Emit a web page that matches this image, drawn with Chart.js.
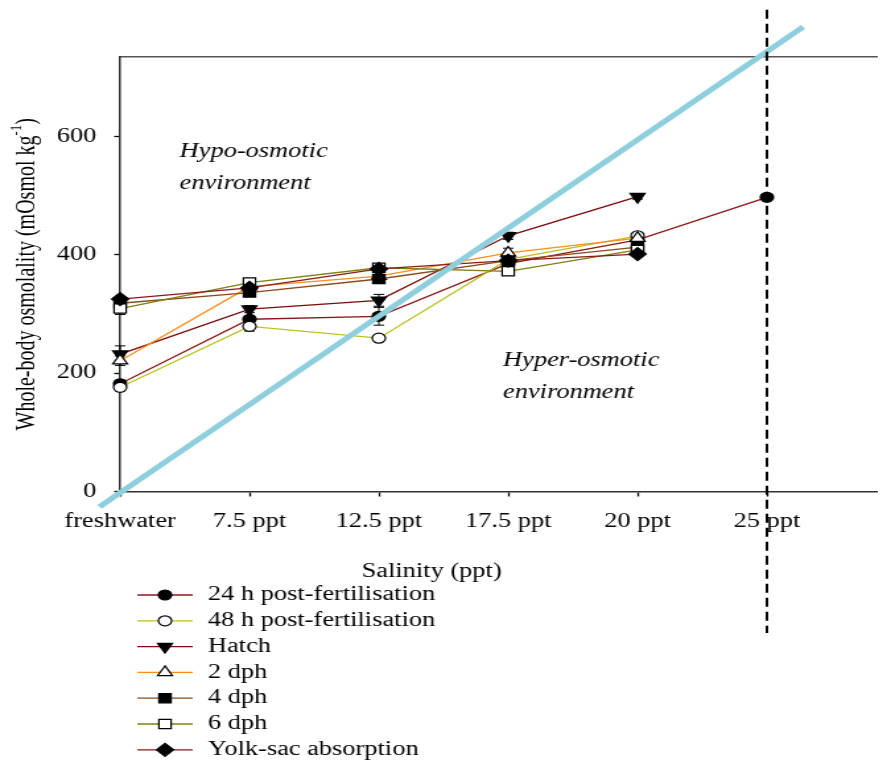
<!DOCTYPE html>
<html>
<head>
<meta charset="utf-8">
<script src="https://cdn.jsdelivr.net/npm/chart.js@4.4.1/dist/chart.umd.min.js"></script>
<style>
  html, body { margin: 0; padding: 0; background: #fff; overflow: hidden; }
  /* the figure is drawn narrow and widened, which gives the broad serif lettering */
  #osmo { display: block; transform: scaleX(1.32); transform-origin: 0 0; }
</style>
</head>
<body>
<canvas id="osmo" width="672" height="763"></canvas>
<script>
// salinity treatments along the x axis (index = position)
const salinities = ['freshwater', '7.5 ppt', '12.5 ppt', '17.5 ppt', '20 ppt', '25 ppt'];
const yTickValues = [0, 200, 400, 600];

// whole-body osmolality, mOsmol kg-1 (null = not sampled)
const post24h   = [182, 291, 296, 385, 425, 497];
const post48h   = [176, 279, 259, 392, 432, null];
const hatch     = [232, 308, 323, 432, 498, null];
const dph2      = [221, 346, 364, 403, 428, null];
const dph4      = [318, 336, 359, 390, 413, null];
const dph6      = [309, 353, 378, 372, 408, null];
const yolkSac   = [325, 344, 376, 390, 401, null];

// standard errors
const post24hErr = [6, 5, 15, 6, 6, 4];
const post48hErr = [6, 8, 4, 6, 5, 0];
const hatchErr   = [14, 6, 10, 6, 4, 0];
const dph2Err    = [8, 6, 6, 8, 5, 0];
const dph4Err    = [5, 5, 5, 6, 5, 0];
const dph6Err    = [10, 5, 5, 6, 5, 0];
const yolkSacErr = [5, 5, 5, 5, 4, 0];

// isosmotic line (medium osmolality) and the 25 ppt marker line
const isoX = [-0.16, 5.28];
const isoY = [-26, 785];
const dashX = [5, 5];
const dashY = [814, -239];

const serif = "'Liberation Serif', 'Times New Roman', serif";

function toPoints(vals) {
  return vals.map((v, i) => ({ x: i, y: v })).filter(p => p.y != null);
}

function series(label, vals, err, color, style, filled, radius, rotation) {
  return {
    label: label,
    data: toPoints(vals),
    err: err,
    borderColor: color,
    borderWidth: 1.3,
    pointStyle: style,
    pointRadius: radius,
    pointRotation: rotation || 0,
    pointBackgroundColor: filled ? '#000' : '#fff',
    pointBorderColor: '#000',
    pointBorderWidth: 1.2,
    fill: false,
    tension: 0,
    clip: false
  };
}

const lineSeries = [
  series('24 h post-fertilisation', post24h, post24hErr, '#8b1a1a', 'circle', true, 5),
  series('48 h post-fertilisation', post48h, post48hErr, '#b9c21f', 'circle', false, 5),
  series('Hatch', hatch, hatchErr, '#7a0c0c', 'triangle', true, 6.5, 180),
  series('2 dph', dph2, dph2Err, '#ff8c1a', 'triangle', false, 6.5),
  series('4 dph', dph4, dph4Err, '#8b4a1a', 'rect', true, 6.5),
  series('6 dph', dph6, dph6Err, '#7f7f10', 'rect', false, 6.5),
  series('Yolk-sac absorption', yolkSac, yolkSacErr, '#8b1a1a', 'rectRot', true, 6.5)
];
// later stages are painted over earlier ones
lineSeries.forEach((ds, i) => { ds.order = 20 - i; });

const isoLine = {
  label: 'isosmotic',
  data: isoX.map((x, i) => ({ x: x, y: isoY[i] })),
  borderColor: '#8fcfdd',
  borderWidth: 5,
  pointRadius: 0,
  order: -1,
  clip: false
};

const dashLine = {
  label: '25 ppt',
  data: dashX.map((x, i) => ({ x: x, y: dashY[i] })),
  borderColor: '#000',
  borderWidth: 2,
  borderDash: [9, 5],
  pointRadius: 0,
  order: -2,
  clip: false
};

// labels inside the plot, positioned in data units
const notes = [
  { x: 0.46, y: 565, lines: ['Hypo-osmotic', 'environment'] },
  { x: 2.96, y: 212, lines: ['Hyper-osmotic', 'environment'] }
];

// error bars under the markers
const errorBars = {
  id: 'errorBars',
  beforeDatasetsDraw(chart) {
    const { ctx, scales: { x, y } } = chart;
    ctx.save();
    ctx.strokeStyle = '#000';
    ctx.lineWidth = 1;
    chart.data.datasets.forEach(ds => {
      if (!ds.err) return;
      ds.data.forEach(p => {
        const e = ds.err[p.x];
        if (!e) return;
        const px = x.getPixelForValue(p.x);
        const top = y.getPixelForValue(p.y + e);
        const bot = y.getPixelForValue(p.y - e);
        ctx.beginPath();
        ctx.moveTo(px, top); ctx.lineTo(px, bot);
        ctx.moveTo(px - 4, top); ctx.lineTo(px + 4, top);
        ctx.moveTo(px - 4, bot); ctx.lineTo(px + 4, bot);
        ctx.stroke();
      });
    });
    ctx.restore();
  }
};

function marker(ctx, ds, cx, cy) {
  const opts = {
    pointStyle: ds.pointStyle,
    radius: ds.pointRadius,
    rotation: ds.pointRotation,
    borderWidth: ds.pointBorderWidth
  };
  ctx.fillStyle = ds.pointBackgroundColor;
  ctx.strokeStyle = ds.pointBorderColor;
  ctx.lineWidth = ds.pointBorderWidth;
  Chart.helpers.drawPoint(ctx, opts, cx, cy);
}

// axis titles, in-plot notes and the legend block
const annotations = {
  id: 'annotations',
  afterDraw(chart) {
    const { ctx, chartArea, scales: { x, y } } = chart;
    ctx.save();
    ctx.fillStyle = '#000';

    ctx.font = 'italic 20px ' + serif;
    ctx.textAlign = 'left';
    ctx.textBaseline = 'alphabetic';
    notes.forEach(n => {
      n.lines.forEach((t, i) => {
        ctx.fillText(t, x.getPixelForValue(n.x), y.getPixelForValue(n.y) + i * 32);
      });
    });

    // x title
    ctx.font = '20px ' + serif;
    ctx.textAlign = 'center';
    ctx.fillText('Salinity (ppt)', 327, 577);

    // y title with superscript
    const main = 'Whole-body osmolality (mOsmol kg';
    const sup = '-1';
    const tail = ')';
    ctx.font = '20px ' + serif;
    const wMain = ctx.measureText(main).width;
    const wTail = ctx.measureText(tail).width;
    ctx.font = '13px ' + serif;
    const wSup = ctx.measureText(sup).width;
    const total = wMain + wSup + wTail;
    ctx.translate(21, (chartArea.top + chartArea.bottom) / 2);
    ctx.rotate(-Math.PI / 2);
    ctx.textAlign = 'left';
    ctx.textBaseline = 'middle';
    let tx = -total / 2;
    ctx.font = '20px ' + serif;
    ctx.fillText(main, tx, 0);
    tx += wMain;
    ctx.font = '13px ' + serif;
    ctx.fillText(sup, tx, -8);
    tx += wSup;
    ctx.font = '20px ' + serif;
    ctx.fillText(tail, tx, 0);
    ctx.setTransform(1, 0, 0, 1, 0, 0);

    // legend
    const rowY0 = 595, rowGap = 25.8;
    lineSeries.forEach((ds, i) => {
      const ly = rowY0 + i * rowGap;
      ctx.strokeStyle = ds.borderColor;
      ctx.lineWidth = 1.3;
      ctx.beginPath();
      ctx.moveTo(104, ly);
      ctx.lineTo(146, ly);
      ctx.stroke();
      marker(ctx, ds, 125, ly);
      ctx.fillStyle = '#000';
      ctx.font = '20px ' + serif;
      ctx.textAlign = 'left';
      ctx.textBaseline = 'middle';
      ctx.fillText(ds.label, 157.5, ly);
    });
    ctx.restore();
  }
};

const xMax = 5.85;

new Chart(document.getElementById('osmo'), {
  type: 'line',
  data: { datasets: lineSeries.concat([isoLine, dashLine]) },
  options: {
    responsive: false,
    animation: false,
    layout: { padding: { top: 57, right: 0, bottom: 211.5, left: 0 } },
    plugins: {
      legend: { display: false },
      tooltip: { enabled: false }
    },
    scales: {
      x: {
        type: 'linear',
        position: 'bottom',
        min: 0,
        max: xMax,
        clip: false,
        afterBuildTicks: s => { s.ticks = salinities.map((_, i) => ({ value: i })); },
        afterFit: s => { s.height = 60; },
        ticks: {
          color: '#000',
          font: { family: serif, size: 20 },
          padding: 13,
          maxRotation: 0,
          autoSkip: false,
          callback: v => salinities[v]
        },
        grid: { drawOnChartArea: false, drawTicks: true, tickLength: 5, color: '#000', tickWidth: 1.3 },
        border: { display: true, color: '#333', width: 1.5 }
      },
      xTop: {
        type: 'linear',
        position: 'top',
        min: 0,
        max: xMax,
        afterFit: s => { s.height = 0; },
        ticks: { display: false },
        grid: { display: false },
        border: { display: true, color: '#555', width: 1.5 }
      },
      y: {
        type: 'linear',
        min: 0,
        max: 734,
        afterBuildTicks: s => { s.ticks = yTickValues.map(v => ({ value: v })); },
        afterFit: s => { s.width = 91; },
        ticks: {
          color: '#000',
          font: { family: serif, size: 20 },
          padding: 13.5
        },
        grid: { drawOnChartArea: false, drawTicks: true, tickLength: 4.5, color: '#000', tickWidth: 1.3 },
        border: { display: true, color: '#333', width: 1.5 }
      }
    }
  },
  plugins: [errorBars, annotations]
});
</script>
</body>
</html>
